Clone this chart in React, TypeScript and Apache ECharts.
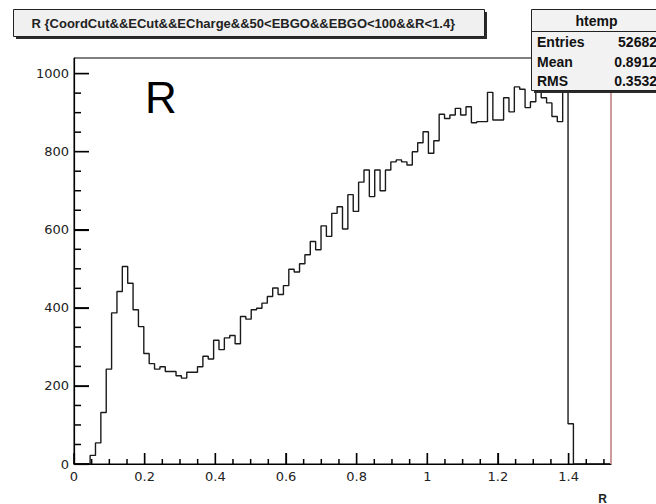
import React, { useEffect, useRef } from "react";
import * as echarts from "echarts";

// Histogram definition (ROOT htemp: 100 bins on [0, 1.52])
const X_MIN = 0;
const X_MAX = 1.52;
const N_BINS = 100;
const Y_MIN = 0;
const Y_MAX = 1040;

// Bin contents
const counts: number[] = [
  0, 0, 0, 22, 54, 132, 243, 387, 442, 506,
  463, 395, 352, 283, 257, 243, 249, 237, 237, 226,
  220, 235, 235, 249, 276, 269, 317, 293, 323, 329,
  308, 378, 371, 395, 399, 412, 429, 451, 434, 457,
  499, 492, 513, 536, 570, 549, 610, 583, 642, 659,
  602, 690, 647, 722, 753, 685, 753, 700, 753, 774,
  779, 774, 766, 800, 823, 851, 796, 828, 896, 885,
  894, 911, 894, 915, 874, 877, 877, 952, 881, 881,
  938, 902, 966, 960, 913, 928, 975, 938, 925, 890,
  877, 990, 103, 0, 0, 0, 0, 0, 0, 0,
];

// Axis tick values
const xMajorTicks = [0, 0.2, 0.4, 0.6, 0.8, 1, 1.2, 1.4];
const xMinorTicks = [
  0.05, 0.1, 0.15, 0.25, 0.3, 0.35, 0.45, 0.5, 0.55, 0.65, 0.7, 0.75,
  0.85, 0.9, 0.95, 1.05, 1.1, 1.15, 1.25, 1.3, 1.35, 1.45, 1.5,
];
const yMajorTicks = [0, 200, 400, 600, 800, 1000];
const yMinorTicks = [
  50, 100, 150, 250, 300, 350, 450, 500, 550, 650, 700, 750, 850, 900, 950,
];
const X_LABEL_STEP = 0.2;
const Y_LABEL_STEP = 200;

const titleText = "R {CoordCut&&ECut&&ECharge&&50<EBGO&&EBGO<100&&R<1.4}";
const statsName = "htemp";
const statsLabels = ["Entries", "Mean", "RMS"];
const statsValues = ["52682", "0.8912", "0.3532"];
const bigLabel = "R";
const xAxisTitle = "R";

export default function App() {
  const ref = useRef<HTMLDivElement>(null);

  useEffect(() => {
    if (!ref.current) return;
    const chart = echarts.init(ref.current, null, { renderer: "svg" });

    const binWidth = (X_MAX - X_MIN) / N_BINS;
    const stepData: number[][] = counts.map((c, i) => [X_MIN + i * binWidth, c]);
    stepData.push([X_MAX, counts[counts.length - 1]]);

    const labelFont = "'DejaVu Sans', sans-serif";
    const statFont = "bold 14px 'Liberation Sans', Arial, sans-serif";
    const statRowsY = [41.5, 62, 81];
    const plain = (v: number) => String(v);

    chart.setOption({
      animation: false,
      grid: { left: 74, top: 58, width: 537, height: 406, show: true, borderColor: "#000" },
      xAxis: {
        type: "value", min: X_MIN, max: X_MAX, interval: X_LABEL_STEP,
        axisLine: { show: true, onZero: false, lineStyle: { color: "#000", width: 1.2 } },
        axisTick: { show: true, inside: true, length: 11, lineStyle: { color: "#000", width: 1.2 } },
        axisLabel: {
          show: true, margin: 6, showMaxLabel: false, formatter: plain,
          fontFamily: labelFont, fontSize: 13, color: "#222",
        },
        splitLine: { show: false },
      },
      yAxis: {
        type: "value", min: Y_MIN, max: Y_MAX, interval: Y_LABEL_STEP,
        axisLine: { show: true, onZero: false, lineStyle: { color: "#000", width: 1.2 } },
        axisTick: { show: true, inside: true, length: 15, lineStyle: { color: "#000", width: 1.2 } },
        axisLabel: {
          show: true, margin: 5, showMaxLabel: false, formatter: plain,
          fontFamily: labelFont, fontSize: 13, color: "#222",
        },
        splitLine: { show: false },
      },
      series: [
        {
          type: "line",
          step: "end",
          data: stepData,
          showSymbol: false,
          lineStyle: { color: "#1a1a1a", width: 1.4 },
        },
      ],
    });

    const g: any[] = [
      // title box with shadow
      { type: "rect", shape: { x: 16, y: 12, width: 471, height: 27 }, style: { fill: "#2a2a2a" }, z: 40 },
      { type: "rect", shape: { x: 13.5, y: 9.5, width: 471, height: 27 }, style: { fill: "#f0f0f0", stroke: "#222", lineWidth: 1 }, z: 41 },
      {
        type: "text", x: 31.5, y: 23.5, z: 42,
        style: { text: titleText, fill: "#222", font: "bold 13px 'Liberation Sans', Arial, sans-serif", verticalAlign: "middle", align: "left" },
      },
      // big R label
      {
        type: "text", x: 145, y: 97, z: 42,
        style: { text: bigLabel, fill: "#000", font: "44px 'Liberation Sans', Arial, sans-serif", verticalAlign: "middle", align: "left" },
      },
      // x axis title
      {
        type: "text", x: 607, y: 498.5, z: 42,
        style: { text: xAxisTitle, fill: "#222", font: "bold 12px 'Liberation Sans', Arial, sans-serif", verticalAlign: "middle", align: "right" },
      },
      // right frame edge
      { type: "line", shape: { x1: 611, y1: 58, x2: 611, y2: 464 }, style: { stroke: "#e6a3a3", lineWidth: 1.5 }, z: 45 },
      // stats box with shadow
      { type: "rect", shape: { x: 534, y: 12, width: 130, height: 81 }, style: { fill: "#2a2a2a" }, z: 60 },
      { type: "rect", shape: { x: 531.5, y: 9.5, width: 130, height: 81 }, style: { fill: "#f2f2f2", stroke: "#222", lineWidth: 1 }, z: 61 },
      { type: "line", shape: { x1: 531.5, y1: 31.5, x2: 662, y2: 31.5 }, style: { stroke: "#222", lineWidth: 1 }, z: 62 },
      {
        type: "text", x: 596.5, y: 20.5, z: 63,
        style: { text: statsName, fill: "#111", font: statFont, verticalAlign: "middle", align: "center" },
      },
    ];
    statsLabels.forEach((lab, i) => {
      g.push({
        type: "text", x: 537, y: statRowsY[i], z: 63,
        style: { text: lab, fill: "#111", font: statFont, verticalAlign: "middle", align: "left" },
      });
      g.push({
        type: "text", x: 657, y: statRowsY[i], z: 63,
        style: { text: statsValues[i], fill: "#111", font: statFont, verticalAlign: "middle", align: "right" },
      });
    });

    // tick marks positioned through the axes' own scales
    const addTicks = (values: number[], dir: "x" | "y", len: number) => {
      values.forEach((v) => {
        const p = chart.convertToPixel({ gridIndex: 0 }, dir === "x" ? [v, Y_MIN] : [X_MIN, v]) as number[];
        if (!p || isNaN(p[0]) || isNaN(p[1])) return;
        g.push({
          type: "line",
          z: 50,
          shape: dir === "x"
            ? { x1: p[0], y1: p[1], x2: p[0], y2: p[1] - len }
            : { x1: p[0], y1: p[1], x2: p[0] + len, y2: p[1] },
          style: { stroke: "#000", lineWidth: 1.5 },
        });
      });
    };
    addTicks(xMajorTicks, "x", 11);
    addTicks(xMinorTicks, "x", 5);
    addTicks(yMajorTicks, "y", 15);
    addTicks(yMinorTicks, "y", 7);

    chart.setOption({ graphic: g });

    return () => chart.dispose();
  }, []);

  return (
    <div
      ref={ref}
      style={{ position: "fixed", left: 0, top: 0, width: 656, height: 504, background: "#fff" }}
    />
  );
}
